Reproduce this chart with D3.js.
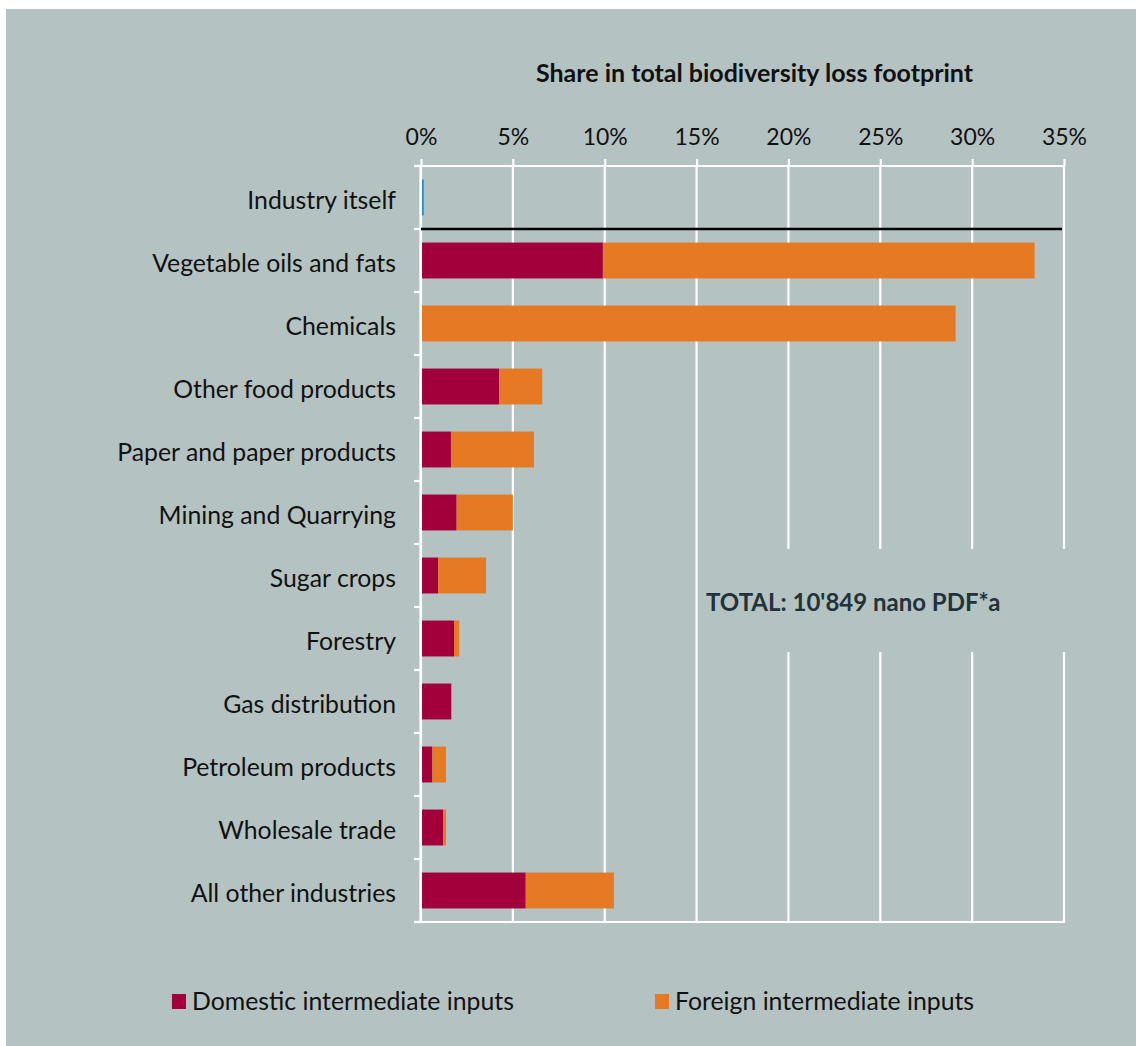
<!DOCTYPE html>
<html>
<head>
<meta charset="utf-8">
<script src="https://cdn.jsdelivr.net/npm/d3@7"></script>
<style>
  html, body { margin: 0; padding: 0; background: #ffffff; }
  svg { display: block; }
  text { font-family: Lato, "Open Sans", sans-serif; }
</style>
</head>
<body>
<script>
// Industries, top to bottom
const categories = [
  "Industry itself",
  "Vegetable oils and fats",
  "Chemicals",
  "Other food products",
  "Paper and paper products",
  "Mining and Quarrying",
  "Sugar crops",
  "Forestry",
  "Gas distribution",
  "Petroleum products",
  "Wholesale trade",
  "All other industries"
];

// Share (%) of the total footprint by origin of intermediate inputs
const ownShare      = [0.15, 0, 0, 0, 0, 0, 0, 0, 0, 0, 0, 0];
const domesticShare = [0, 9.9, 0, 4.25, 1.63, 1.94, 0.93, 1.8, 1.65, 0.62, 1.2, 5.7];
const foreignShare  = [0, 23.5, 29.1, 2.35, 4.52, 3.06, 2.61, 0.28, 0, 0.74, 0.16, 4.8];

const seriesKeys   = ["own", "domestic", "foreign"];
const seriesLabels = { domestic: "Domestic intermediate inputs", foreign: "Foreign intermediate inputs" };
const tickValues   = [0, 5, 10, 15, 20, 25, 30, 35];

const axisTitle = "Share in total biodiversity loss footprint";
const totalNote = "TOTAL: 10'849 nano PDF*a";

const colors = { own: "#1f8fd3", domestic: "#a1003a", foreign: "#e67a24" };
const panelBg = "#b4c3c2";
const textColor = "#111111";

const W = 1136, H = 1046;
const svg = d3.select("body").append("svg").attr("width", W).attr("height", H);

// panel
svg.append("rect").attr("x", 6).attr("y", 9).attr("width", W - 6).attr("height", H - 9).attr("fill", panelBg);

const x = d3.scaleLinear().domain([0, 35]).range([421, 1064]);
const y = d3.scaleBand().domain(categories).range([166, 922]).paddingInner(0.43).paddingOuter(0.215);

const rows = categories.map((c, i) => ({ cat: c, own: ownShare[i], domestic: domesticShare[i], foreign: foreignShare[i] }));
const stacked = d3.stack().keys(seriesKeys)(rows);

// vertical gridlines
svg.append("g").selectAll("line").data(tickValues).join("line")
  .attr("x1", d => x(d)).attr("x2", d => x(d))
  .attr("y1", y.range()[0]).attr("y2", y.range()[1])
  .attr("stroke", "#ffffff").attr("stroke-width", 2.2);

// top axis with labels
const topAxis = svg.append("g").attr("transform", `translate(0,${y.range()[0]})`)
  .call(d3.axisTop(x).tickValues(tickValues).tickFormat(d => d + "%").tickSize(7).tickPadding(14));
topAxis.select(".domain").remove();
topAxis.selectAll(".tick line").attr("stroke", "#ffffff").attr("stroke-width", 2.2);
topAxis.selectAll(".tick text").attr("fill", textColor).style("font-size", "23px").style("font-family", "Lato, sans-serif");

// horizontal frame lines at top and bottom of plot
const tickLen = 7;
svg.append("g").selectAll("line").data(y.range()).join("line")
  .attr("x1", x(0) - tickLen).attr("x2", x(35) + 1)
  .attr("y1", d => d).attr("y2", d => d)
  .attr("stroke", "#ffffff").attr("stroke-width", 2.2);

// bars
svg.append("g").selectAll("g").data(stacked).join("g")
  .attr("fill", d => colors[d.key])
  .selectAll("rect").data(d => d).join("rect")
  .attr("x", d => x(d[0]) + (d[0] === 0 ? 1 : 0))
  .attr("width", d => Math.max(0, x(d[1]) - x(d[0]) - (d[0] === 0 && d[1] > 0 ? 1 : 0)))
  .attr("y", d => y(d.data.cat))
  .attr("height", y.bandwidth());

// left axis line and band-boundary ticks
const step = y.step();
const boundaries = categories.map(c => y(c) - step * y.paddingInner() / 2).concat([y.range()[1]]);
svg.append("line").attr("x1", x(0) - 0.5).attr("x2", x(0) - 0.5)
  .attr("y1", y.range()[0]).attr("y2", y.range()[1])
  .attr("stroke", "#ffffff").attr("stroke-width", 2.2);
svg.append("g").selectAll("line").data(boundaries).join("line")
  .attr("x1", x(0) - tickLen).attr("x2", x(0))
  .attr("y1", d => d).attr("y2", d => d)
  .attr("stroke", "#ffffff").attr("stroke-width", 2.2);

// separator between the industry's own impact and its supply chain
svg.append("line")
  .attr("x1", x(0)).attr("x2", x(35) - 2)
  .attr("y1", boundaries[1]).attr("y2", boundaries[1])
  .attr("stroke", "#000000").attr("stroke-width", 2.5);

// category labels
svg.append("g").selectAll("text").data(categories).join("text")
  .attr("x", x(0) - 25)
  .attr("y", d => y(d) + y.bandwidth() / 2)
  .attr("dy", "0.45em")
  .attr("text-anchor", "end")
  .attr("fill", textColor)
  .style("font-size", "24.8px")
  .text(d => d);

// axis title
svg.append("text")
  .attr("x", (x(0) + x(35)) / 2 + 12).attr("y", 82)
  .attr("text-anchor", "middle")
  .attr("fill", textColor)
  .style("font-size", "25px").style("font-weight", "bold")
  .text(axisTitle);

// total annotation on a background box that interrupts the gridlines
const noteBox = svg.append("g");
noteBox.append("rect").attr("x", 700).attr("y", 549).attr("width", 372).attr("height", 103).attr("fill", panelBg);
noteBox.append("text").attr("x", 706).attr("y", 611)
  .attr("fill", "#22323a")
  .style("font-size", "24px").style("font-weight", "bold")
  .text(totalNote);

// legend
const legendItems = [
  { key: "domestic", x: 172 },
  { key: "foreign", x: 655 }
];
const legend = svg.append("g").selectAll("g").data(legendItems).join("g")
  .attr("transform", d => `translate(${d.x},994)`);
legend.append("rect").attr("width", 14).attr("height", 15).attr("fill", d => colors[d.key]);
legend.append("text").attr("x", 20).attr("y", 16)
  .attr("fill", textColor).style("font-size", "24.8px")
  .text(d => seriesLabels[d.key]);
</script>
</body>
</html>
